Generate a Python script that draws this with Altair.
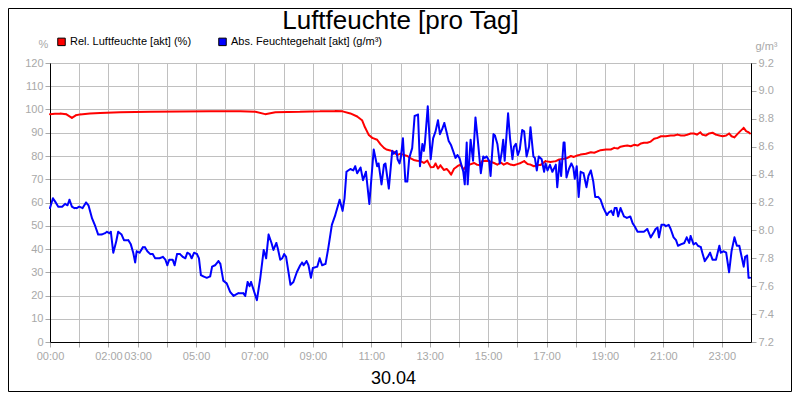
import altair as alt
import pandas as pd

TITLE = "Luftfeuchte [pro Tag]"
DATE_LABEL = "30.04"
REL_NAME = "Rel. Luftfeuchte [akt] (%)"
ABS_NAME = "Abs. Feuchtegehalt [akt] (g/m³)"
LABELED_HOURS = [0, 2, 3, 5, 7, 9, 11, 13, 15, 17, 19, 21, 23]
REL_TICKS = [0, 10, 20, 30, 40, 50, 60, 70, 80, 90, 100, 110, 120]
ABS_TICKS = [7.2, 7.4, 7.6, 7.8, 8.0, 8.2, 8.4, 8.6, 8.8, 9.0, 9.2]

# relative humidity (%), time in minutes after midnight
rel_minutes = [0, 10, 21, 33, 45, 53, 62, 82, 103, 144,
               206, 267, 329, 391, 422, 442, 463, 514, 555, 586,
               601, 617, 631, 641, 646, 655, 662, 672, 679, 686,
               691, 699, 706, 713, 720, 727, 734, 741, 747, 754,
               761, 768, 775, 782, 788, 792, 797, 802, 809, 815,
               819, 824, 830, 837, 843, 847, 850, 856, 862, 871,
               877, 883, 888, 895, 902, 912, 919, 926, 932, 939,
               946, 953, 960, 967, 974, 981, 987, 994, 1001, 1008,
               1018, 1028, 1039, 1046, 1056, 1063, 1070, 1076, 1083, 1090,
               1101, 1111, 1118, 1125, 1131, 1142, 1152, 1159, 1166, 1172,
               1179, 1186, 1193, 1200, 1207, 1214, 1220, 1227, 1234, 1241,
               1248, 1255, 1265, 1275, 1282, 1289, 1296, 1303, 1310, 1316,
               1323, 1329, 1336, 1340, 1347, 1354, 1361, 1368, 1375, 1382,
               1389, 1395, 1400, 1406, 1411, 1418, 1425, 1430, 1435, 1438]
rel_values = [98, 98.2, 98.3, 98, 96.4, 97.5, 97.9, 98.3, 98.5, 98.8,
              99, 99.1, 99.2, 99.2, 99, 98, 98.8, 99, 99.2, 99.4,
              99.2, 98.3, 97, 95.4, 92.8, 89, 87.8, 87, 85, 83.5,
              82.8, 82.4, 81.8, 80.4, 81, 80.4, 80, 79, 78.3, 78,
              77.8, 77, 78, 75.2, 75.3, 76.8, 74.6, 76, 74, 74.4,
              73.5, 72, 74.5, 75.6, 76.3, 75, 74.3, 76, 76.3, 77,
              76.3, 76, 77.8, 78, 77.8, 77, 76.3, 77.2, 76.3, 77,
              76.3, 76, 76.5, 77, 77.8, 76.6, 76.3, 75.6, 76, 76.2,
              77.8, 77.4, 77.8, 78.5, 78.8, 79.2, 80, 79.6, 80.2, 80.6,
              81, 81.6, 81.4, 82, 82.5, 82.8, 82.8, 83.5, 83.2, 84,
              84.3, 84.5, 84.2, 84.8, 84.5, 85.4, 85.7, 85.7, 86.2, 87.4,
              87.8, 88.5, 88.5, 88.8, 88.8, 89.2, 88.8, 88.8, 89.2, 89.7,
              89.7, 89.2, 90.2, 89.2, 88.8, 89.7, 90, 89.2, 88.8, 88.5,
              88.8, 89.7, 88.5, 88, 89.2, 90.7, 92.1, 90.7, 90.2, 89.7]

# absolute humidity (g/m³), time in minutes after midnight
abs_minutes = [0, 6, 10, 17, 25, 31, 36, 40, 45, 50,
               55, 60, 67, 74, 79, 86, 93, 99, 106, 113,
               117, 122, 125, 130, 136, 140, 147, 152, 161, 166,
               171, 175, 178, 184, 191, 195, 200, 206, 211, 216,
               225, 232, 237, 241, 245, 252, 256, 261, 267, 273,
               278, 282, 287, 291, 296, 302, 306, 310, 315, 322,
               329, 333, 339, 346, 350, 356, 363, 370, 377, 387,
               397, 401, 406, 410, 413, 425, 432, 439, 444, 449,
               455, 459, 465, 468, 473, 477, 481, 485, 494, 500,
               507, 514, 518, 521, 527, 531, 536, 540, 549, 554,
               559, 566, 572, 579, 586, 595, 601, 605, 609, 617,
               623, 627, 631, 638, 643, 649, 656, 665, 672, 675,
               681, 686, 689, 696, 703, 706, 712, 714, 718, 721,
               725, 730, 734, 738, 744, 749, 756, 760, 765, 768,
               770, 776, 782, 787, 792, 797, 801, 806, 810, 815,
               819, 824, 828, 833, 837, 841, 845, 849, 852, 856,
               858, 864, 869, 874, 879, 885, 890, 893, 897, 902,
               905, 911, 914, 919, 924, 928, 931, 934, 941, 945,
               950, 953, 957, 961, 965, 970, 974, 979, 984, 987,
               993, 996, 1000, 1004, 1010, 1015, 1018, 1022, 1027, 1032,
               1039, 1042, 1047, 1050, 1055, 1057, 1061, 1066, 1071, 1075,
               1078, 1082, 1086, 1090, 1096, 1102, 1106, 1111, 1116, 1120,
               1126, 1131, 1137, 1144, 1148, 1153, 1157, 1160, 1164, 1167,
               1172, 1179, 1185, 1192, 1197, 1201, 1207, 1214, 1220, 1227,
               1234, 1241, 1244, 1248, 1251, 1256, 1262, 1265, 1271, 1275,
               1281, 1286, 1290, 1296, 1303, 1308, 1313, 1316, 1322, 1327,
               1331, 1337, 1340, 1345, 1351, 1356, 1361, 1368, 1375, 1378,
               1384, 1389, 1395, 1400, 1406, 1411, 1416, 1419, 1425, 1428,
               1432, 1435, 1438]
abs_values = [8.16, 8.23, 8.21, 8.17, 8.17, 8.19, 8.18, 8.22, 8.17, 8.16,
              8.16, 8.17, 8.16, 8.20, 8.18, 8.09, 8.03, 7.97, 7.97, 7.98,
              7.99, 7.98, 7.99, 7.84, 7.92, 7.99, 7.97, 7.93, 7.93, 7.90,
              7.84, 7.77, 7.85, 7.84, 7.88, 7.88, 7.85, 7.83, 7.83, 7.80,
              7.80, 7.81, 7.79, 7.75, 7.79, 7.79, 7.75, 7.83, 7.83, 7.81,
              7.80, 7.84, 7.83, 7.80, 7.84, 7.83, 7.80, 7.68, 7.67, 7.66,
              7.67, 7.74, 7.75, 7.78, 7.76, 7.64, 7.62, 7.56, 7.53, 7.55,
              7.55, 7.53, 7.63, 7.60, 7.63, 7.50, 7.66, 7.86, 7.80, 7.97,
              7.91, 7.86, 7.91, 7.87, 7.79, 7.80, 7.83, 7.81, 7.61, 7.63,
              7.70, 7.75, 7.77, 7.75, 7.78, 7.75, 7.66, 7.73, 7.74, 7.80,
              7.75, 7.76, 7.88, 8.04, 8.11, 8.22, 8.14, 8.23, 8.42, 8.44,
              8.43, 8.46, 8.41, 8.45, 8.36, 8.42, 8.19, 8.58, 8.46, 8.48,
              8.33, 8.47, 8.48, 8.30, 8.57, 8.55, 8.57, 8.51, 8.48, 8.53,
              8.66, 8.35, 8.35, 8.52, 8.59, 8.82, 8.83, 8.46, 8.62, 8.57,
              8.62, 8.89, 8.51, 8.66, 8.71, 8.79, 8.69, 8.73, 8.77, 8.70,
              8.64, 8.61, 8.57, 8.52, 8.54, 8.52, 8.47, 8.42, 8.33, 8.63,
              8.33, 8.65, 8.50, 8.81, 8.64, 8.41, 8.53, 8.52, 8.53, 8.50,
              8.39, 8.69, 8.68, 8.62, 8.48, 8.56, 8.65, 8.50, 8.84, 8.66,
              8.51, 8.60, 8.62, 8.54, 8.58, 8.72, 8.71, 8.53, 8.60, 8.74,
              8.53, 8.52, 8.43, 8.53, 8.51, 8.42, 8.48, 8.43, 8.47, 8.42,
              8.47, 8.31, 8.50, 8.39, 8.63, 8.63, 8.38, 8.44, 8.48, 8.45,
              8.37, 8.46, 8.24, 8.42, 8.41, 8.31, 8.39, 8.43, 8.35, 8.24,
              8.24, 8.22, 8.16, 8.11, 8.13, 8.14, 8.11, 8.16, 8.16, 8.10,
              8.16, 8.10, 8.09, 8.10, 8.05, 8.03, 7.99, 7.99, 7.99, 8.01,
              7.95, 7.99, 8.01, 8.02, 7.95, 8.04, 8.04, 8.03, 8.04, 8.01,
              7.95, 7.93, 7.89, 7.90, 7.91, 7.95, 7.91, 7.96, 7.90, 7.91,
              7.89, 7.88, 7.84, 7.78, 7.81, 7.84, 7.79, 7.79, 7.89, 7.84,
              7.85, 7.84, 7.70, 7.85, 7.95, 7.89, 7.89, 7.84, 7.74, 7.81,
              7.82, 7.66, 7.66]

rel_df = pd.DataFrame({"t": rel_minutes, "v": rel_values, "series": REL_NAME})
abs_df = pd.DataFrame({"t": abs_minutes, "v": abs_values, "series": ABS_NAME})

FONT = "Liberation Sans"
GRID = "#c0c0c0"
LABEL = "#a8a8a8"

hour_txt = "(datum.value < 600 ? '0' : '') + floor(datum.value / 60) + ':00'"
label_expr = f"indexof({LABELED_HOURS}, datum.value / 60) >= 0 ? {hour_txt} : ''"

x_enc = alt.X(
    "t:Q",
    scale=alt.Scale(domain=[0, 1440], nice=False, zero=False),
    axis=alt.Axis(
        values=list(range(0, 1440, 60)), labelExpr=label_expr, grid=True,
        title=DATE_LABEL, titleFontSize=18, titleColor="black",
        titleFontWeight="normal", titlePadding=8, titleX=343,
        labelPadding=3, labelFlush=False, labelOverlap=False,
    ),
)

fill_enc = alt.Fill(
    "series:N",
    scale=alt.Scale(domain=[REL_NAME, ABS_NAME], range=["#ff0000", "#0000ff"]),
    legend=alt.Legend(
        title=None, orient="none", legendX=6, legendY=-27, direction="horizontal",
        symbolType="square", symbolSize=56, symbolStrokeColor="black",
        symbolStrokeWidth=1, labelFont=FONT, labelFontSize=11, labelColor="black",
        columnPadding=24, labelOffset=3, padding=0, symbolOffset=0,
    ),
)

rel = alt.Chart(rel_df).mark_trail().encode(
    x=x_enc,
    y=alt.Y("v:Q", scale=alt.Scale(domain=[0, 120], nice=False),
            axis=alt.Axis(values=REL_TICKS, grid=True, title="%", titleAngle=0,
                          titleX=-7, titleY=-19, titleAlign="center",
                          titleBaseline="middle", titleFontSize=11,
                          titleColor=LABEL, titleFontWeight="normal")),
    fill=fill_enc,
    size=alt.value(2),
    order=alt.Order("t:Q"),
)

absl = alt.Chart(abs_df).mark_trail().encode(
    x=x_enc,
    y=alt.Y("v:Q", scale=alt.Scale(domain=[7.2, 9.2], nice=False, zero=False),
            axis=alt.Axis(values=ABS_TICKS, orient="right", grid=False, format=".1f",
                          title="g/m³", titleAngle=0, titleX=15, titleY=-17,
                          titleAlign="center", titleBaseline="middle",
                          titleFontSize=11, titleColor=LABEL,
                          titleFontWeight="normal")),
    fill=fill_enc,
    size=alt.value(2),
    order=alt.Order("t:Q"),
)

frame = alt.Chart(alt.Data(values=[{"f": 1}])).mark_rect(
    fillOpacity=0, stroke="black", strokeWidth=1
).encode(
    x=alt.value(-41.5), x2=alt.value(741.5), y=alt.value(-54.5), y2=alt.value(328.5)
)

chart = alt.layer(rel, absl, frame).resolve_scale(y="independent").properties(
    width=701,
    height=279,
    title=alt.TitleParams(TITLE, fontSize=26, font=FONT, fontWeight="normal",
                          color="black", anchor="middle", offset=-26),
    padding={"left": 42, "top": 55, "right": 41, "bottom": 50},
    autosize=alt.AutoSizeParams(type="none"),
    background="white",
).configure_view(
    stroke="black", strokeWidth=1
).configure_axis(
    labelFont=FONT, labelFontSize=11, labelColor=LABEL, titleFont=FONT,
    tickColor=LABEL, tickSize=5, gridColor=GRID, gridWidth=1, gridOpacity=1,
    domainColor="black", domainWidth=1, labelPadding=2,
)

chart.save("out.html", embed_options={"renderer": "svg", "actions": False})
